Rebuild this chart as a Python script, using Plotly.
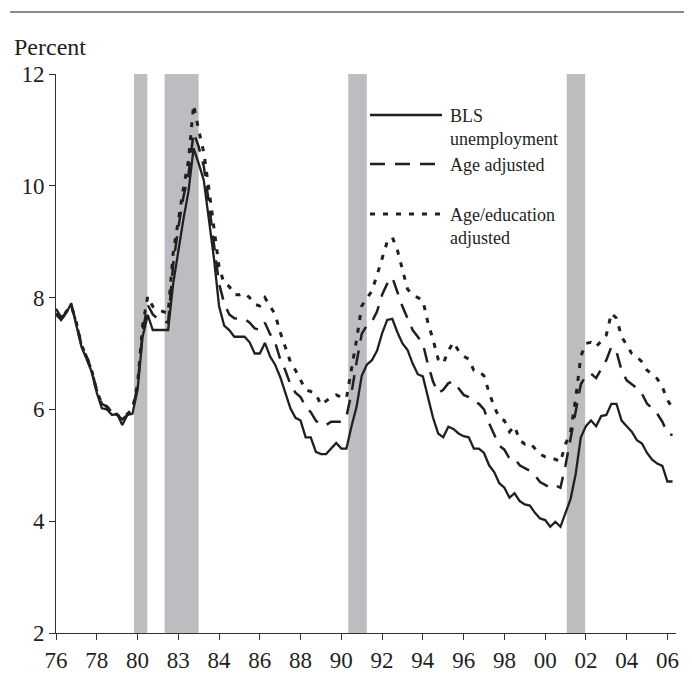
import plotly.graph_objects as go

# Quarterly unemployment rates, percent (Q1 1976 - Q2 2006)
years = list(range(1976, 2007))
quarter_time = [y + q * 0.25 for y in years for q in range(4)]

bls = [
    7.80, 7.65, 7.72, 7.90,   # 1976
    7.50, 7.12, 6.90, 6.67,   # 1977
    6.30, 6.02, 6.00, 5.90,   # 1978
    5.92, 5.72, 5.90, 5.92,   # 1979
    6.35, 7.30, 7.69, 7.42,   # 1980
    7.42, 7.42, 7.42, 8.25,   # 1981
    8.85, 9.40, 9.90, 10.67,  # 1982
    10.40, 10.10, 9.40, 8.70, # 1983
    7.85, 7.50, 7.42, 7.30,   # 1984
    7.30, 7.30, 7.20, 7.00,   # 1985
    7.00, 7.19, 6.95, 6.80,   # 1986
    6.58, 6.28, 6.02, 5.85,   # 1987
    5.80, 5.50, 5.50, 5.24,   # 1988
    5.20, 5.20, 5.30, 5.40,   # 1989
    5.30, 5.30, 5.70, 6.05,   # 1990
    6.60, 6.80, 6.88, 7.05,   # 1991
    7.36, 7.60, 7.62, 7.38,   # 1992
    7.18, 7.06, 6.82, 6.63,   # 1993
    6.59, 6.23, 5.85, 5.57,   # 1994
    5.50, 5.69, 5.65, 5.57,   # 1995
    5.52, 5.50, 5.30, 5.30,   # 1996
    5.22, 5.00, 4.88, 4.68,   # 1997
    4.60, 4.42, 4.50, 4.36,   # 1998
    4.30, 4.28, 4.15, 4.05,   # 1999
    4.02, 3.90, 3.99, 3.90,   # 2000
    4.15, 4.40, 4.85, 5.50,   # 2001
    5.70, 5.80, 5.70, 5.88,   # 2002
    5.90, 6.10, 6.10, 5.80,   # 2003
    5.70, 5.60, 5.45, 5.39,   # 2004
    5.22, 5.10, 5.03, 4.99,   # 2005
    4.71, 4.71,               # 2006
]

age_adjusted = [
    7.72, 7.60, 7.72, 7.85,
    7.55, 7.15, 6.95, 6.70,
    6.35, 6.10, 6.05, 5.95,
    5.90, 5.82, 5.90, 6.00,
    6.40, 7.40, 7.87, 7.70,
    7.62, 7.58, 7.55, 8.60,
    9.25, 9.80, 10.20, 10.95,
    10.70, 10.35, 9.70, 8.95,
    8.25, 7.90, 7.70, 7.63,
    7.62, 7.62, 7.55, 7.45,
    7.42, 7.55, 7.35, 7.20,
    6.90, 6.70, 6.45, 6.30,
    6.22, 6.05, 5.95, 5.80,
    5.72, 5.72, 5.78, 5.78,
    5.78, 5.87, 6.30, 6.85,
    7.35, 7.50, 7.57, 7.75,
    8.05, 8.25, 8.36, 8.10,
    7.84, 7.63, 7.42, 7.30,
    7.18, 6.80, 6.50, 6.29,
    6.35, 6.47, 6.50, 6.38,
    6.26, 6.22, 6.15, 6.10,
    6.00, 5.75, 5.55, 5.35,
    5.28, 5.12, 5.12, 5.00,
    4.95, 4.90, 4.82, 4.70,
    4.65, 4.60, 4.64, 4.60,
    5.00, 5.50, 6.00, 6.45,
    6.60, 6.64, 6.56, 6.72,
    6.88, 7.12, 7.03, 6.70,
    6.52, 6.45, 6.38, 6.28,
    6.10, 6.02, 5.92, 5.78,
    5.57, 5.54,
]

age_education_adjusted = [
    7.70, 7.62, 7.75, 7.85,
    7.55, 7.15, 6.95, 6.70,
    6.33, 6.10, 6.05, 5.95,
    5.90, 5.85, 5.92, 6.00,
    6.45, 7.50, 8.02, 7.84,
    7.78, 7.75, 7.72, 8.80,
    9.40, 9.95, 10.45, 11.45,
    11.00, 10.60, 9.95, 9.25,
    8.55, 8.25, 8.20, 8.05,
    8.05, 8.08, 8.00, 7.88,
    7.85, 8.00, 7.85, 7.70,
    7.38, 7.12, 6.85, 6.70,
    6.52, 6.35, 6.32, 6.28,
    6.08, 6.15, 6.22, 6.26,
    6.22, 6.20, 6.70, 7.25,
    7.85, 7.98, 8.12, 8.40,
    8.70, 9.00, 9.08, 8.85,
    8.50, 8.15, 8.05, 8.00,
    7.95, 7.55, 7.25, 6.90,
    6.82, 7.05, 7.20, 7.05,
    6.95, 6.90, 6.70, 6.68,
    6.60, 6.30, 6.05, 5.85,
    5.80, 5.60, 5.70, 5.45,
    5.38, 5.40, 5.30, 5.20,
    5.15, 5.12, 5.11, 5.06,
    5.38, 5.60, 6.20, 6.95,
    7.18, 7.20, 7.12, 7.22,
    7.33, 7.72, 7.63, 7.30,
    7.15, 7.00, 6.94, 6.85,
    6.70, 6.62, 6.55, 6.40,
    6.17, 6.02,
]

t = quarter_time[:len(bls)]

# Recession periods (shaded)
recession_start = [1979.83, 1981.33, 1990.34, 2001.06]
recession_end = [1980.48, 1983.00, 1991.25, 2001.96]

tick_years = list(range(1976, 2007, 2))
tick_text = ["76", "78", "80", "83", "84", "86", "88", "90",
             "92", "94", "96", "98", "00", "02", "04", "06"]

series_labels = ["BLS<br>unemployment", "Age adjusted", "Age/education<br>adjusted"]

FONT = "Liberation Serif"
INK = "#231f20"
W, H = 692, 700
ML, MR, MT, MB = 56, 16, 74, 67
PW, PH = W - ML - MR, H - MT - MB


def px(x):
    return (x - ML) / PW


def py(y):
    return (H - MB - y) / PH


fig = go.Figure()

# dash pattern and width per series: BLS, age adjusted, age/education adjusted
styles = [("solid", 2.3), ("15px,10px", 2.5), ("5px,8px", 3.0)]
series = [bls, age_adjusted, age_education_adjusted]

for i in (2, 1, 0):
    dash, width = styles[i]
    fig.add_trace(go.Scatter(
        x=t, y=series[i], mode="lines", name=series_labels[i].replace("<br>", " "),
        line=dict(color=INK, width=width, dash=dash),
        showlegend=False,
    ))

shapes = []
for s, e in zip(recession_start, recession_end):
    shapes.append(dict(type="rect", xref="x", yref="y", x0=s, x1=e, y0=2, y1=12,
                       fillcolor="#bcbdc0", line=dict(width=0), layer="below"))

# rule across the top of the figure
shapes.append(dict(type="line", xref="paper", yref="paper",
                   x0=px(10), x1=px(684), y0=py(12), y1=py(12),
                   line=dict(color="#8a8a8a", width=2)))

# hand-placed legend: key line + label
key_x0, key_x1 = px(370), px(442)
key_y = [115, 164, 214]
annotations = []
for i in range(3):
    dash, width = styles[i]
    shapes.append(dict(type="line", xref="paper", yref="paper",
                       x0=key_x0, x1=key_x1, y0=py(key_y[i]), y1=py(key_y[i]),
                       line=dict(color=INK, width=width, dash=dash)))
    annotations.append(dict(text=series_labels[i], x=px(448), y=py(key_y[i] - 11),
                            xref="paper", yref="paper", xanchor="left", yanchor="top",
                            align="left", showarrow=False,
                            font=dict(family=FONT, size=18, color=INK)))

annotations.append(dict(text="Percent", x=px(12), y=py(47), xref="paper", yref="paper",
                        xanchor="left", yanchor="middle", showarrow=False,
                        font=dict(family=FONT, size=24, color=INK)))

axis_common = dict(
    showgrid=False, zeroline=False, showline=True, linecolor="#333333", linewidth=1,
    ticks="outside", ticklen=6, tickcolor="#333333", tickwidth=1,
    tickfont=dict(family=FONT, size=23, color=INK),
)

fig.update_layout(
    width=W, height=H,
    margin=dict(l=ML, r=MR, t=MT, b=MB),
    paper_bgcolor="white", plot_bgcolor="white",
    xaxis=dict(range=[1976, 2006.42], tickvals=tick_years, ticktext=tick_text, **axis_common),
    yaxis=dict(range=[2, 12], tickvals=[2, 4, 6, 8, 10, 12], **axis_common),
    shapes=shapes,
    annotations=annotations,
)

fig.write_html("out.html")
